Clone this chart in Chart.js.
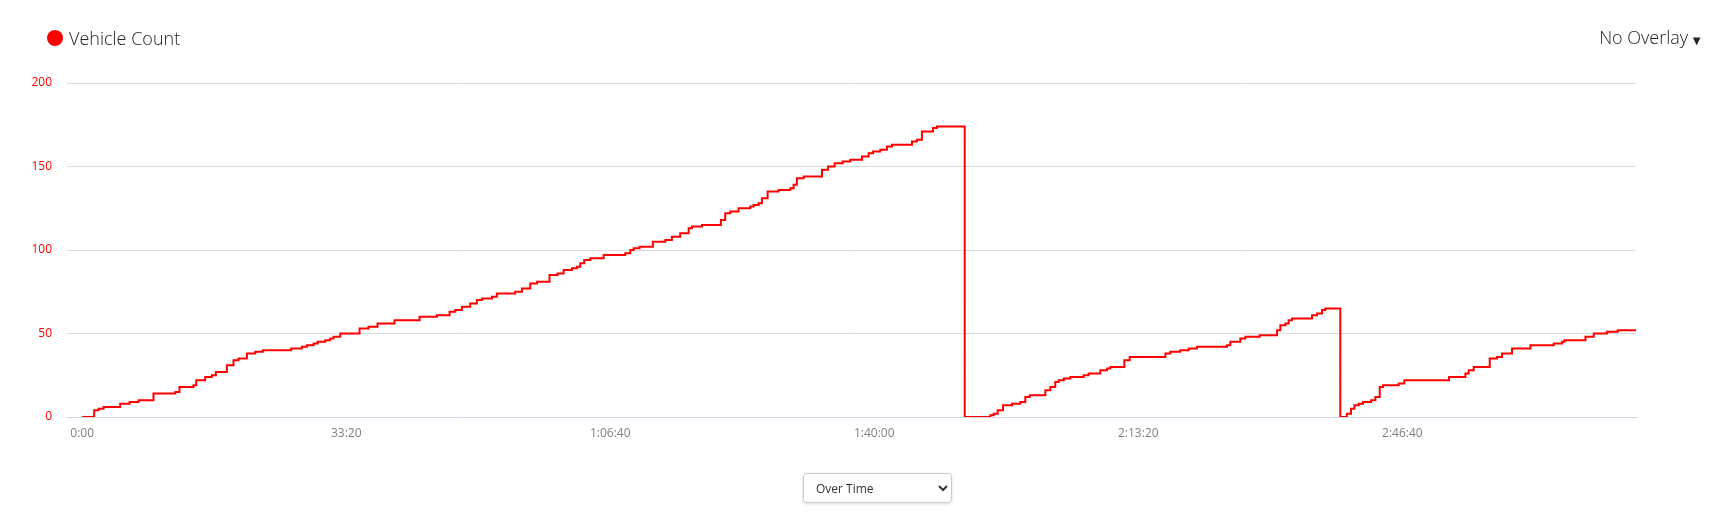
<!DOCTYPE html>
<html>
<head>
<meta charset="utf-8">
<script src="https://cdn.jsdelivr.net/npm/chart.js@4"></script>
<style>
  html, body { margin: 0; padding: 0; background: #fff; }
  body { width: 1727px; height: 522px; position: relative; overflow: hidden; font-family: "Open Sans", sans-serif; }
  #chartWrap { position: absolute; left: 0; top: 0; width: 1727px; height: 470px; }
  .legend { position: absolute; left: 47px; top: 26px; font-size: 18px; font-weight: 300; color: #222; display: flex; align-items: center; }
  .legend .dot { width: 16px; height: 16px; border-radius: 50%; background: #ff0000; margin-right: 6px; }
  .overlay { position: absolute; right: 24px; top: 25px; font-size: 18px; font-weight: 300; color: #222; }
  .overlay span { font-size: 13px; margin-left: 2px; position: relative; top: 1px; }
  select { position: absolute; left: 803px; top: 473px; width: 149px; height: 30px; font-family: "Open Sans", sans-serif; font-size: 12px; color: #333;
    border: 1px solid #ccc; border-radius: 4px; background: #fff; box-shadow: 0 1px 3px rgba(0,0,0,0.15); padding-left: 8px; }
</style>
</head>
<body>
<div id="chartWrap"><canvas id="countChart"></canvas></div>
<div class="legend"><div class="dot"></div>Vehicle Count</div>
<div class="overlay">No Overlay<span>&#9660;</span></div>
<select><option>Over Time</option><option>Per Hour</option></select>
<script>
// seconds since start, cumulative vehicle count (step changes)
const times = [
  0, 91, 124, 162, 288, 359, 427, 540, 705, 737, 843, 864, 932, 982, 1013, 1096, 1146, 1184, 1248, 1311,
  1369, 1583, 1664, 1702, 1753, 1783, 1841, 1879, 1904, 1955, 2101, 2169, 2237, 2366, 2556, 2687, 2783, 2826, 2876, 2939,
  2990, 3028, 3104, 3141, 3280, 3331, 3394, 3445, 3540, 3601, 3647, 3710, 3748, 3773, 3803, 3849, 3950, 4114, 4152, 4177,
  4222, 4323, 4417, 4467, 4530, 4594, 4619, 4695, 4838, 4871, 4909, 4972, 5061, 5086, 5124, 5149, 5192, 5275, 5364, 5389,
  5414, 5465, 5604, 5650, 5700, 5760, 5818, 5907, 5957, 5990, 6046, 6096, 6134, 6286, 6323, 6361, 6445, 6475, 6685,
  6879, 6904, 6935, 6975, 7043, 7106, 7144, 7177, 7296, 7334, 7371, 7397, 7435, 7485, 7586, 7624, 7712, 7763, 7788, 7894,
  7935, 8205, 8243, 8318, 8382, 8445, 8672, 8697, 8773, 8811, 8919, 9051, 9076, 9114, 9139, 9164, 9316, 9354, 9392, 9417,
  9530,
  9580, 9611, 9637, 9670, 9702, 9763, 9796, 9829, 9854, 9972, 10015, 10354, 10478, 10503, 10541, 10662, 10717, 10755, 10831, 10970,
  11147, 11210, 11228, 11387, 11450, 11551, 11632, 11770
];
const counts = [
  0, 4, 5, 6, 8, 9, 10, 14, 15, 18, 19, 22, 24, 25, 27, 31, 34, 35, 38, 39,
  40, 41, 42, 43, 44, 45, 46, 47, 48, 50, 53, 54, 56, 58, 60, 61, 63, 64, 66, 68,
  70, 71, 72, 74, 75, 77, 80, 81, 85, 86, 88, 89, 90, 92, 94, 95, 97, 98, 100, 101,
  102, 105, 106, 108, 110, 113, 114, 115, 118, 122, 123, 125, 126, 127, 128, 131, 135, 136, 137, 139,
  143, 144, 148, 150, 152, 153, 154, 156, 158, 159, 160, 162, 163, 165, 166, 171, 173, 174, 0,
  1, 2, 4, 7, 8, 9, 12, 13, 16, 18, 21, 22, 23, 24, 25, 26, 28, 29, 30, 34,
  36, 38, 39, 40, 41, 42, 43, 45, 47, 48, 49, 52, 55, 56, 58, 59, 61, 62, 64, 65,
  0,
  2, 5, 7, 8, 9, 10, 12, 18, 19, 20, 22, 24, 26, 28, 30, 35, 36, 38, 41, 43,
  44, 45, 46, 48, 50, 51, 52, 52
];
const xTickValues = [0, 2000, 4000, 6000, 8000, 10000];
const yTickValues = [0, 50, 100, 150, 200];

function fmtTime(sec) {
  const h = Math.floor(sec / 3600);
  const m = Math.floor((sec % 3600) / 60);
  const s = sec % 60;
  const pad = n => String(n).padStart(2, '0');
  return h > 0 ? `${h}:${pad(m)}:${pad(s)}` : `${m}:${pad(s)}`;
}

const ctx = document.getElementById('countChart');
new Chart(ctx, {
  type: 'line',
  data: {
    datasets: [{
      label: 'Vehicle Count',
      data: times.map((t, i) => ({ x: t, y: counts[i] })),
      borderColor: '#ff0000',
      backgroundColor: '#ff0000',
      borderWidth: 2,
      pointRadius: 0,
      stepped: true,
      fill: false
    }]
  },
  options: {
    responsive: true,
    maintainAspectRatio: false,
    animation: false,
    layout: { padding: { top: 83, right: 91, bottom: 23, left: 0 } },
    plugins: {
      legend: { display: false },
      tooltip: { enabled: false }
    },
    scales: {
      x: {
        type: 'linear',
        min: -115,
        max: 11770,
        afterBuildTicks: axis => { axis.ticks = xTickValues.map(v => ({ value: v })); },
        afterFit: scale => { scale.height = 30; },
        grid: { display: false, drawTicks: false },
        border: { display: true, color: '#ccd6eb', width: 1 },
        ticks: {
          padding: 9,
          color: '#808080',
          font: { family: 'Open Sans', size: 12 },
          maxRotation: 0,
          callback: v => fmtTime(v)
        }
      },
      y: {
        min: 0,
        max: 200,
        afterBuildTicks: axis => { axis.ticks = yTickValues.map(v => ({ value: v })); },
        afterFit: scale => { scale.width = 67; },
        grid: { color: '#dcdcdc', drawTicks: false },
        border: { display: false },
        ticks: {
          padding: 15,
          color: '#ff0000',
          font: { family: 'Open Sans', size: 12 }
        }
      }
    }
  }
});
</script>
</body>
</html>
